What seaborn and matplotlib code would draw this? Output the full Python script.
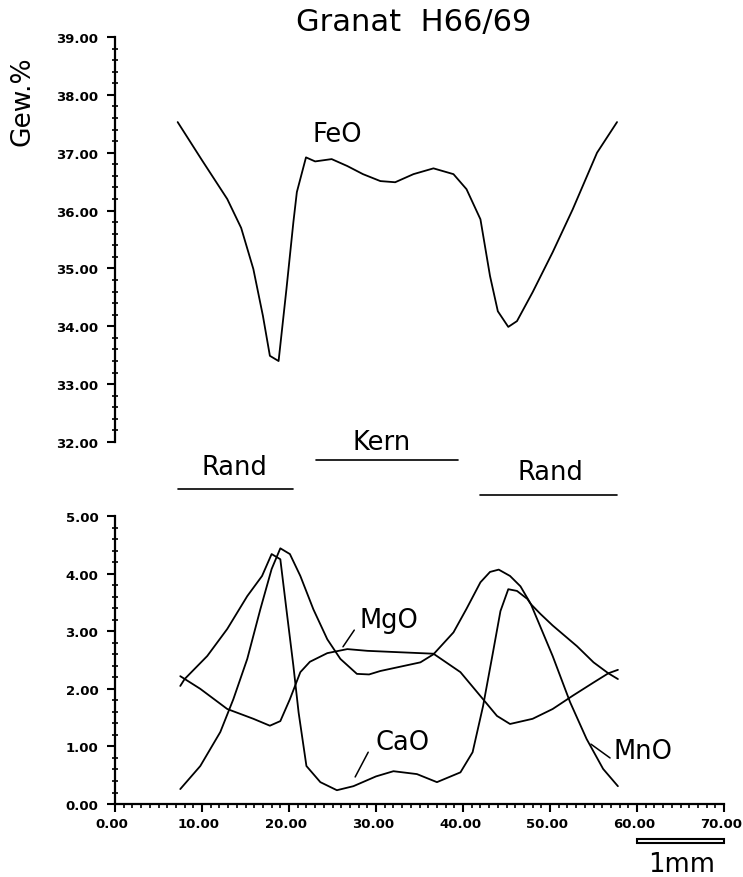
import matplotlib
matplotlib.use("Agg")
import matplotlib.pyplot as plt
import matplotlib.transforms as mtransforms
import seaborn as sns
import pandas as pd
from matplotlib.ticker import MultipleLocator, FormatStrFormatter
from matplotlib.patches import Rectangle

# ---- data ----
feo_x = [7.2, 10.0, 12.9, 14.5, 15.9, 17.0, 17.8, 18.8, 19.7, 20.5, 20.9, 21.95, 23.0, 24.9,
         26.7, 28.5, 30.5, 32.2, 34.3, 36.6, 38.9, 40.4, 42.0, 43.1, 44.0, 45.2, 46.2, 48.0,
         50.3, 52.6, 55.4, 57.7]
feo_y = [37.53, 36.87, 36.20, 35.70, 34.99, 34.18, 33.49, 33.40, 34.64, 35.80, 36.32, 36.92,
         36.85, 36.89, 36.77, 36.63, 36.51, 36.49, 36.63, 36.73, 36.63, 36.37, 35.85, 34.87,
         34.26, 33.99, 34.09, 34.59, 35.28, 36.02, 37.00, 37.53]

mgo_x = [7.5, 9.8, 12.9, 15.9, 17.8, 19.0, 20.1, 21.3, 22.4, 24.4, 26.7, 29.0, 32.0, 36.6,
         39.7, 42.3, 43.9, 45.4, 48.0, 50.3, 52.6, 55.0, 56.7, 57.8]
mgo_y = [2.22, 2.00, 1.65, 1.48, 1.36, 1.44, 1.82, 2.29, 2.47, 2.62, 2.69, 2.66, 2.64, 2.61,
         2.29, 1.82, 1.53, 1.39, 1.48, 1.65, 1.88, 2.11, 2.27, 2.33]

cao_x = [7.5, 8.0, 10.6, 12.9, 15.2, 16.9, 18.0, 19.0, 19.7, 20.5, 21.1, 22.0, 23.6, 25.5,
         27.4, 30.0, 32.0, 34.7, 37.0, 39.7, 41.1, 42.3, 43.4, 44.3, 45.2, 46.2, 47.4, 47.8,
         48.9, 50.3, 53.1, 55.0, 56.7, 57.8]
cao_y = [2.05, 2.17, 2.57, 3.04, 3.61, 3.96, 4.34, 4.25, 3.38, 2.40, 1.59, 0.66, 0.38, 0.24,
         0.31, 0.48, 0.57, 0.52, 0.38, 0.55, 0.90, 1.70, 2.60, 3.35, 3.73, 3.70, 3.56, 3.47,
         3.30, 3.10, 2.74, 2.46, 2.27, 2.17]

mno_x = [7.5, 9.8, 12.1, 13.6, 15.2, 16.7, 18.0, 19.0, 20.1, 21.3, 22.8, 24.4, 25.9, 27.8,
         29.2, 30.5, 35.1, 36.6, 38.9, 40.4, 42.0, 43.1, 44.1, 45.4, 46.6, 47.8, 50.3, 52.3,
         54.2, 56.1, 57.8]
mno_y = [0.26, 0.66, 1.25, 1.82, 2.52, 3.38, 4.08, 4.44, 4.34, 3.96, 3.38, 2.86, 2.52, 2.26,
         2.25, 2.31, 2.46, 2.60, 2.98, 3.39, 3.85, 4.03, 4.07, 3.96, 3.78, 3.47, 2.57, 1.77,
         1.13, 0.61, 0.31]

x_ticks = [0, 10, 20, 30, 40, 50, 60, 70]

# ---- styling ----
sns.set_style("ticks")
plt.rcParams['font.family'] = ['DejaVu Sans']
plt.rcParams.update({'text.color': 'black', 'axes.labelcolor': 'black',
                     'xtick.color': 'black', 'ytick.color': 'black',
                     'axes.edgecolor': 'black'})

fig = plt.figure(figsize=(7.43, 8.78), dpi=100)
ax_top = fig.add_axes([0.1548, 0.4954, 0.8197, 0.4613])
ax_bot = fig.add_axes([0.1548, 0.0831, 0.8197, 0.3280])

df_fe = pd.DataFrame({'x': feo_x, 'y': feo_y})
sns.lineplot(data=df_fe, x='x', y='y', ax=ax_top, color='black', lw=1.3,
             estimator=None)

df_b = pd.concat([
    pd.DataFrame({'x': mgo_x, 'y': mgo_y, 'oxide': 'MgO'}),
    pd.DataFrame({'x': cao_x, 'y': cao_y, 'oxide': 'CaO'}),
    pd.DataFrame({'x': mno_x, 'y': mno_y, 'oxide': 'MnO'}),
], ignore_index=True)
sns.lineplot(data=df_b, x='x', y='y', hue='oxide', units='oxide', estimator=None,
             palette=['black', 'black', 'black'], ax=ax_bot, lw=1.3, legend=False)

tick_fs = 9.5
for ax in (ax_top, ax_bot):
    ax.set_xlim(0, 70)
    ax.set_xlabel('')
    ax.set_ylabel('')
    ax.spines['top'].set_visible(False)
    ax.spines['right'].set_visible(False)
    ax.spines['left'].set_linewidth(1.6)
    ax.yaxis.set_minor_locator(MultipleLocator(0.2))
    ax.tick_params(axis='y', which='major', direction='out', length=6, width=1.5,
                   pad=6, labelsize=tick_fs)
    ax.tick_params(axis='y', which='minor', direction='inout', length=4.5, width=1.2)

ax_top.set_ylim(32, 39)
ax_top.set_yticks(range(32, 40))
ax_top.yaxis.set_major_formatter(FormatStrFormatter('%.2f'))
ax_top.spines['bottom'].set_visible(False)
ax_top.tick_params(axis='x', which='both', bottom=False, labelbottom=False)

ax_bot.set_ylim(0, 5)
ax_bot.set_yticks(range(0, 6))
ax_bot.yaxis.set_major_formatter(FormatStrFormatter('%.2f'))
ax_bot.set_xticks(x_ticks)
ax_bot.xaxis.set_major_formatter(FormatStrFormatter('%.2f'))
ax_bot.xaxis.set_minor_locator(MultipleLocator(1))
ax_bot.spines['bottom'].set_linewidth(1.6)
ax_bot.tick_params(axis='x', which='major', direction='out', length=6, width=1.5,
                   pad=3, labelsize=tick_fs)
ax_bot.tick_params(axis='x', which='minor', direction='out', length=3, width=1.2)

shift = mtransforms.ScaledTranslation(-3 / 100, 0, fig.dpi_scale_trans)
for lab in ax_bot.get_xticklabels():
    lab.set_transform(lab.get_transform() + shift)

for ax in (ax_top, ax_bot):
    for lab in ax.get_yticklabels() + ax.get_xticklabels():
        lab.set_fontweight('bold')

# ---- texts ----
fig.text(0.557, 1 - 22 / 878, "Granat  H66/69", ha='center', va='center', fontsize=22)
fig.text(23 / 743, 1 - 101 / 878, "Gew.%", rotation=90, ha='center', va='center',
         fontsize=19)

lab_fs = 18.5
ax_top.text(25.5, 37.32, "FeO", ha='center', va='center', fontsize=lab_fs)

ax_bot.text(31.5, 3.19, "MgO", ha='center', va='center', fontsize=lab_fs)
ax_bot.plot([26.2, 27.5], [2.73, 3.02], color='black', lw=1.1)
ax_bot.text(33.0, 1.08, "CaO", ha='center', va='center', fontsize=lab_fs)
ax_bot.plot([27.6, 29.1], [0.47, 0.90], color='black', lw=1.1)
ax_bot.text(60.7, 0.92, "MnO", ha='center', va='center', fontsize=lab_fs)
ax_bot.plot([54.7, 56.9], [1.04, 0.80], color='black', lw=1.1)

# zone labels
ax_bot.text(13.7, 5.85, "Rand", ha='center', va='center', fontsize=lab_fs, clip_on=False)
ax_bot.plot([7.24, 20.46], [5.47, 5.47], color='black', lw=1.2, clip_on=False)
ax_bot.text(30.7, 6.28, "Kern", ha='center', va='center', fontsize=lab_fs, clip_on=False)
ax_bot.plot([23.1, 39.4], [5.97, 5.97], color='black', lw=1.2, clip_on=False)
ax_bot.text(50.1, 5.76, "Rand", ha='center', va='center', fontsize=lab_fs, clip_on=False)
ax_bot.plot([41.95, 57.7], [5.36, 5.36], color='black', lw=1.2, clip_on=False)

# scale bar
ax_bot.add_patch(Rectangle((60, -0.68), 10, 0.07, facecolor='white', edgecolor='black',
                           lw=1.5, clip_on=False))
ax_bot.text(65.1, -1.04, "1mm", ha='center', va='center', fontsize=lab_fs, clip_on=False)

fig.savefig("out.png", dpi=100)
